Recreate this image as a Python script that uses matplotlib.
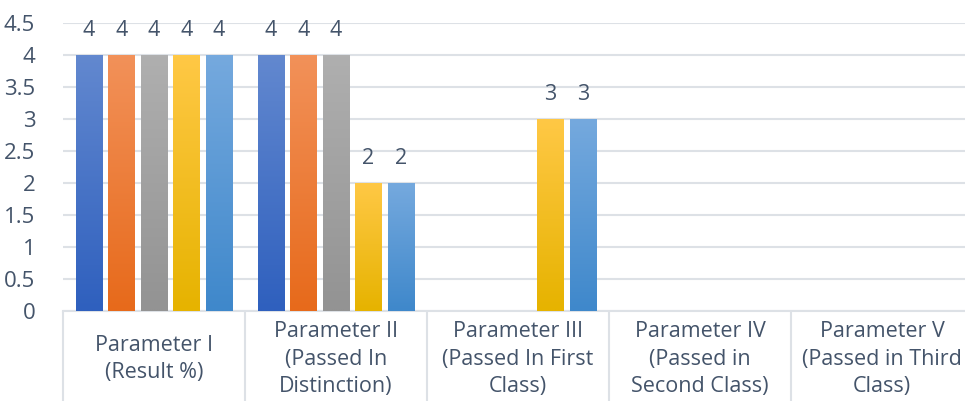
import numpy as np
import matplotlib.pyplot as plt
from matplotlib.colors import to_rgb

plt.rcParams['font.family'] = ['Open Sans', 'DejaVu Sans']

# Chart data
categories = ["Parameter I\n(Result %)",
              "Parameter II\n(Passed In\nDistinction)",
              "Parameter III\n(Passed In First\nClass)",
              "Parameter IV\n(Passed in\nSecond Class)",
              "Parameter V\n(Passed in Third\nClass)"]
series_1 = [4, 4, 0, 0, 0]
series_2 = [4, 4, 0, 0, 0]
series_3 = [4, 4, 0, 0, 0]
series_4 = [4, 2, 3, 0, 0]
series_5 = [4, 2, 3, 0, 0]
series = [series_1, series_2, series_3, series_4, series_5]

# gradient colours (top, bottom) for each series
grad_colors = [("#6288cf", "#2f60be"),
               ("#f29159", "#e76a1b"),
               ("#afafaf", "#939393"),
               ("#ffc845", "#e6b300"),
               ("#75a9de", "#3f88cb")]
text_color = "#44546A"
grid_color = "#dde1e6"

fig = plt.figure(figsize=(9.65, 4.01), dpi=100)
# the plot area runs slightly past the right edge, as in the original crop
ax = fig.add_axes([63 / 965, 90 / 401, 910 / 965, 288 / 401])

x = np.arange(len(categories))
step = 0.1786
width = 0.148

for i, vals in enumerate(series):
    bars = ax.bar(x + (i - 2) * step, vals, width, color='none', zorder=3)
    top = np.array(to_rgb(grad_colors[i][0]))
    bot = np.array(to_rgb(grad_colors[i][1]))
    t = np.linspace(0, 1, 64)[:, None]
    grad = (top * (1 - t) + bot * t)[:, None, :]
    for b, v in zip(bars, vals):
        if v <= 0:
            continue
        bx, bw, bh = b.get_x(), b.get_width(), b.get_height()
        ax.imshow(grad, extent=[bx, bx + bw, 0, bh], aspect='auto',
                  interpolation='bilinear', zorder=3)
        ax.text(bx + bw / 2, bh + 0.39, f"{v:g}", ha='center', va='center',
                fontsize=15.5, color=text_color)

ax.set_xlim(-0.5, len(categories) - 0.5)
ax.set_ylim(0, 4.5)
ax.set_yticks(np.arange(0, 4.51, 0.5))
ax.set_yticklabels([f"{v:g}" for v in np.arange(0, 4.51, 0.5)])
ax.grid(axis='y', color=grid_color, linewidth=1.5, zorder=0)
ax.set_axisbelow(True)

# category separators
ax.set_xticks(np.arange(-0.5, len(categories), 1))
ax.set_xticklabels([])
ax.tick_params(axis='x', which='major', length=66, width=1.5, color=grid_color)

# category labels, centred vertically under the axis
for xi, lab in zip(x, categories):
    ax.text(xi, -0.167, lab, transform=ax.get_xaxis_transform(),
            ha='center', va='center', multialignment='center',
            fontsize=15.5, color=text_color, linespacing=1.42)

ax.tick_params(axis='y', length=0, pad=20, labelsize=16, labelcolor=text_color)

for s in ['left', 'right', 'top']:
    ax.spines[s].set_visible(False)
ax.spines['bottom'].set_color(grid_color)
ax.spines['bottom'].set_linewidth(1.5)

fig.savefig("out.png", dpi=100)
